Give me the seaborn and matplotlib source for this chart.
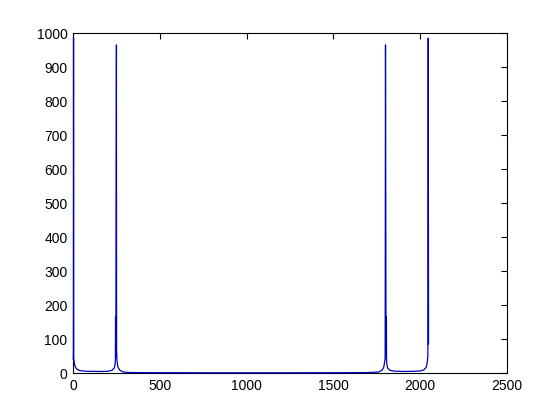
import matplotlib
matplotlib.use("Agg")
import matplotlib.pyplot as plt
import seaborn as sns
import pandas as pd

# Sample index and magnitude (FFT-style magnitude spectrum)
bins = [1, 2, 3, 4, 6, 10, 20, 40, 80, 150, 200, 225, 238, 242, 244, 245, 247,
        250, 251, 253, 258, 270, 290, 320, 400, 800, 1200, 1500, 1700, 1730,
        1760, 1780, 1790, 1795, 1798, 1800, 1803, 1805, 1806, 1808, 1812, 1825,
        1850, 1900, 1960, 2000, 2020, 2035, 2040, 2044, 2046, 2048]
magnitude = [40, 60, 985, 45, 35, 22, 12, 7, 5, 4.5, 5, 8, 15, 25, 40, 165, 45,
             965, 70, 38, 18, 8, 3, 1.5, 1, 0.6, 0.6, 0.8, 1.2, 2,
             3, 8, 17, 33, 45, 965, 45, 165, 40, 25, 15, 8,
             5.5, 4.5, 5, 6, 9, 17, 30, 50, 985, 85]

xticks = [0, 500, 1000, 1500, 2000, 2500]
yticks = [0, 100, 200, 300, 400, 500, 600, 700, 800, 900, 1000]

sns.set_style("white")
plt.rcParams['font.family'] = ['Liberation Sans', 'DejaVu Sans']

df = pd.DataFrame({"bin": bins, "mag": magnitude})

fig = plt.figure(figsize=(5.6, 4.2), dpi=100, facecolor="white")
ax = fig.add_axes([0.1304, 0.1119, 0.775, 0.8095])
sns.lineplot(data=df, x="bin", y="mag", ax=ax, color="#0000c0", linewidth=0.9,
             estimator=None, sort=False, zorder=5, clip_on=False)

ax.set_xlim(0, 2500)
ax.set_ylim(0, 1000)
ax.set_xticks(xticks)
ax.set_yticks(yticks)
ax.set_xticklabels([str(t) for t in xticks])
ax.set_yticklabels([str(t) for t in yticks])
ax.set_xlabel("")
ax.set_ylabel("")
ax.tick_params(direction="in", length=4, width=0.8, top=True, right=True,
               labelsize=10, colors="black", pad=4)
for s in ax.spines.values():
    s.set_visible(True)
    s.set_color("black")
    s.set_linewidth(0.8)
    s.set_zorder(2)

fig.savefig("out.png", dpi=100, facecolor="white")
